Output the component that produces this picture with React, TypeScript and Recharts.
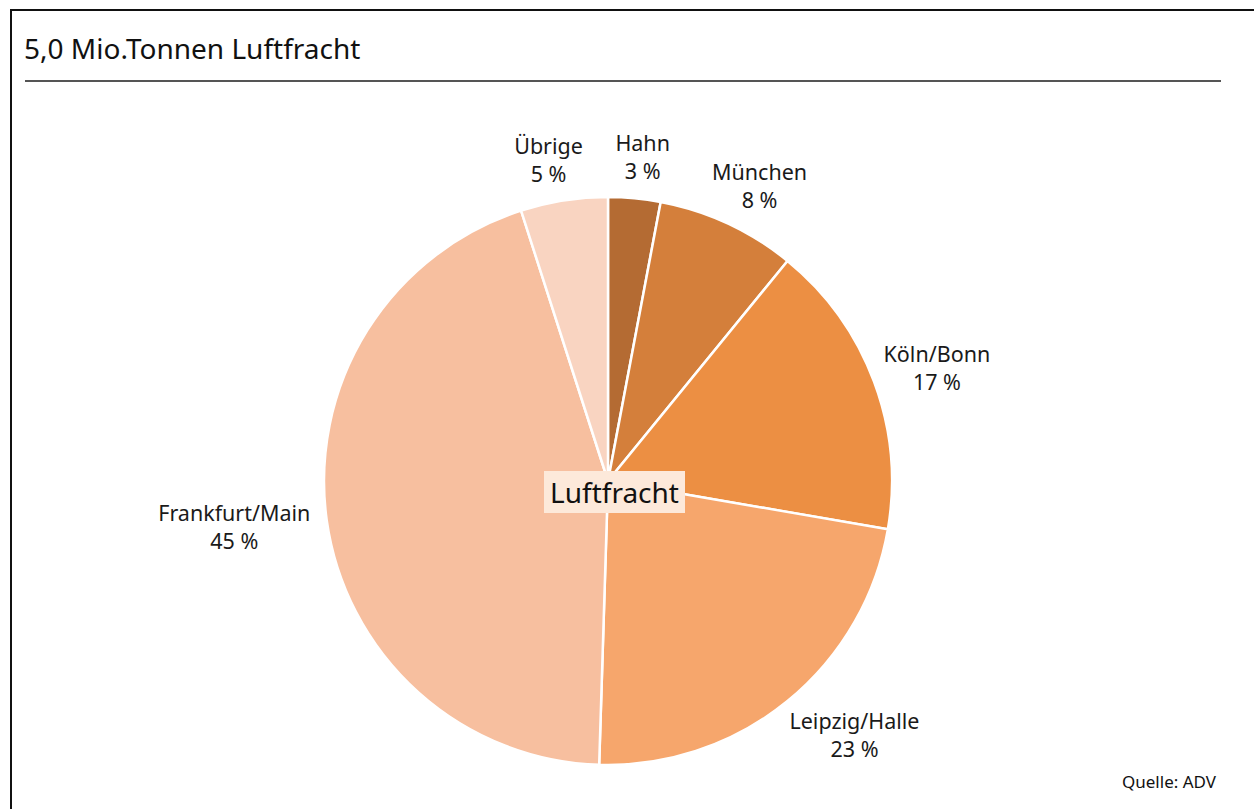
import React from "react";
import { PieChart, Pie, Cell } from "recharts";

const airports = ["Hahn", "München", "Köln/Bonn", "Leipzig/Halle", "Frankfurt/Main", "Übrige"];
const shares = [3, 8, 17, 23, 45, 5];
const colors = ["#b46b33", "#d47f3b", "#ec8f43", "#f6a66c", "#f7bf9f", "#f9d4c1"];

const data = airports.map((name, i) => ({ name, value: shares[i] }));

const FONT = "'Noto Sans', 'Open Sans', sans-serif";
const RAD = Math.PI / 180;

const renderLabel = (props: any) => {
  const { cx, cy, midAngle, outerRadius, name, value } = props;
  const cos = Math.cos(-midAngle * RAD);
  const sin = Math.sin(-midAngle * RAD);
  const r = outerRadius + 16;
  const w = name.length * 11;
  const h = 52;
  const x = cx + r * cos + (Math.sign(cos) * Math.sqrt(Math.abs(cos)) * w) / 2;
  const y = cy + r * sin + (sin * h) / 2;
  return (
    <text x={x} y={y} textAnchor="middle" fontFamily={FONT} fontSize={21.5} fill="#1a1a1a">
      <tspan x={x} dy={-5}>{name}</tspan>
      <tspan x={x} dy={28}>{value} %</tspan>
    </text>
  );
};

export default function App() {
  return (
    <div style={{ position: "absolute", left: 0, top: 0, width: 1254, height: 809, overflow: "hidden", background: "#fff" }}>
      <div style={{ position: "absolute", left: 10, top: 9, width: 1270, height: 830, border: "2px solid #111" }} />
      <div style={{ position: "absolute", left: 24, top: 28, fontFamily: FONT, fontSize: 28, color: "#111", lineHeight: "40px" }}>
        5,0 Mio.Tonnen Luftfracht
      </div>
      <div style={{ position: "absolute", left: 25, top: 80, width: 1196, height: 2, background: "#555" }} />
      <div style={{ position: "absolute", right: 38, top: 770, fontFamily: FONT, fontSize: 17, color: "#111" }}>
        Quelle: ADV
      </div>
      <div style={{ position: "absolute", left: 0, top: 0 }}>
        <PieChart width={1254} height={809}>
          <Pie
            data={data}
            dataKey="value"
            nameKey="name"
            cx={603}
            cy={476}
            outerRadius={284}
            startAngle={90}
            endAngle={-270}
            stroke="#ffffff"
            strokeWidth={2.5}
            label={renderLabel}
            labelLine={false}
            isAnimationActive={false}
          >
            {data.map((d, i) => (
              <Cell key={d.name} fill={colors[i]} />
            ))}
          </Pie>
        </PieChart>
      </div>
      <div
        style={{
          position: "absolute",
          left: 544,
          top: 471,
          width: 141,
          height: 42,
          background: "#fde9da",
          fontFamily: FONT,
          fontSize: 28,
          color: "#111",
          lineHeight: "42px",
          textAlign: "center",
        }}
      >
        Luftfracht
      </div>
    </div>
  );
}
